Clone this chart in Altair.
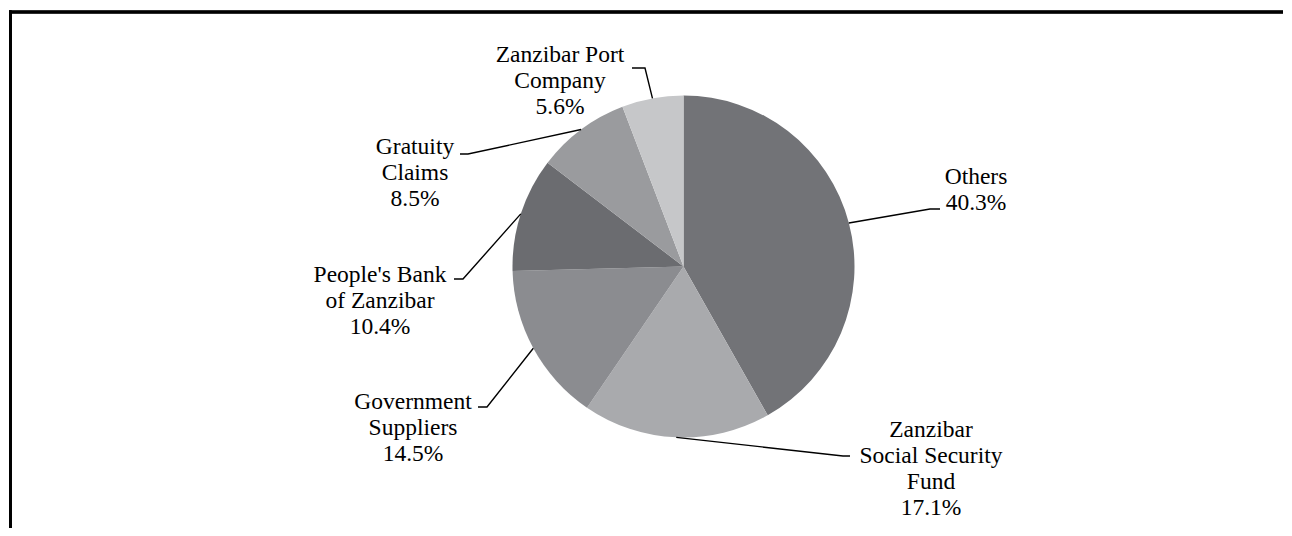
import math
import altair as alt
import pandas as pd

# ---- data ----
categories = [
    "Others",
    "Zanzibar Social Security Fund",
    "Government Suppliers",
    "People's Bank of Zanzibar",
    "Gratuity Claims",
    "Zanzibar Port Company",
]
shares = [40.3, 17.1, 14.5, 10.4, 8.5, 5.6]
label_names = [
    "Others",
    "Zanzibar\nSocial Security\nFund",
    "Government\nSuppliers",
    "People's Bank\nof Zanzibar",
    "Gratuity\nClaims",
    "Zanzibar Port\nCompany",
]
colors = ["#727377", "#a9aaad", "#8b8c90", "#6b6c70", "#9a9b9e", "#c6c7c9"]

# ---- layout (page pixels, separate from data) ----
OFF = 8
W, H = 1276, 520
CX, CY, R = 683.5 - OFF, 266.5 - OFF, 171
# centre x and first-line y of each label block
label_pos = [(976, 177), (931, 430), (413, 402), (380, 275), (415, 147), (560, 55)]
elbow_pos = [(930, 209), (843, 456), (487, 407), (463, 279), (468, 154), (645, 68)]
stub_pos = [(940, 209), (850, 456), (478, 407), (454, 279), (460, 154), (632, 68)]

df = pd.DataFrame({
    "cat": categories,
    "share": shares,
    "idx": list(range(len(categories))),
})
df["label"] = [f"{n}\n{v:.1f}%" for n, v in zip(label_names, shares)]
df["lx"] = [p[0] - OFF for p in label_pos]
df["ly"] = [p[1] - OFF for p in label_pos]

total = sum(shares)
rows = []
cum = 0.0
for i, (c, v) in enumerate(zip(categories, shares)):
    a = (cum + v / 2) / total * 2 * math.pi
    cum += v
    px, py = CX + R * math.sin(a), CY - R * math.cos(a)
    rows.append({"cat": c, "step": 0, "x": stub_pos[i][0] - OFF, "y": stub_pos[i][1] - OFF})
    rows.append({"cat": c, "step": 1, "x": elbow_pos[i][0] - OFF, "y": elbow_pos[i][1] - OFF})
    rows.append({"cat": c, "step": 2, "x": px, "y": py})
lines_df = pd.DataFrame(rows)

xs = alt.Scale(domain=[0, W], nice=False, zero=False)
ys = alt.Scale(domain=[0, H], nice=False, zero=False, reverse=True)

pie = alt.Chart(df).mark_arc(radius=R).encode(
    theta=alt.Theta("share:Q", stack=True),
    order=alt.Order("idx:Q"),
    color=alt.Color("cat:N", scale=alt.Scale(domain=categories, range=colors), legend=None),
    x=alt.value(CX),
    y=alt.value(CY),
)

leaders = alt.Chart(lines_df).mark_line(color="black", strokeWidth=1.4).encode(
    x=alt.X("x:Q", scale=xs, axis=None),
    y=alt.Y("y:Q", scale=ys, axis=None),
    detail="cat:N",
    order="step:Q",
)

labels = alt.Chart(df).mark_text(
    font="'Times New Roman', 'Liberation Serif', 'DejaVu Serif', serif",
    fontSize=23.5, lineHeight=26, align="center",
    baseline="middle", lineBreak="\n", color="black",
).encode(
    x=alt.X("lx:Q", scale=xs, axis=None),
    y=alt.Y("ly:Q", scale=ys, axis=None),
    text="label:N",
)

border_top = alt.Chart(df).mark_rule(color="black", strokeWidth=2.5).encode(
    x=alt.value(1.2), x2=alt.value(W - 1), y=alt.value(3.9)
)
border_left = alt.Chart(df).mark_rule(color="black", strokeWidth=2.5).encode(
    x=alt.value(2.3), y=alt.value(2.7), y2=alt.value(H)
)

chart = alt.layer(pie, leaders, labels, border_top, border_left).properties(
    width=W, height=H, padding=0, autosize="none"
).configure_view(stroke=None)

chart.save("out.html", embed_options={"renderer": "svg", "actions": False})
